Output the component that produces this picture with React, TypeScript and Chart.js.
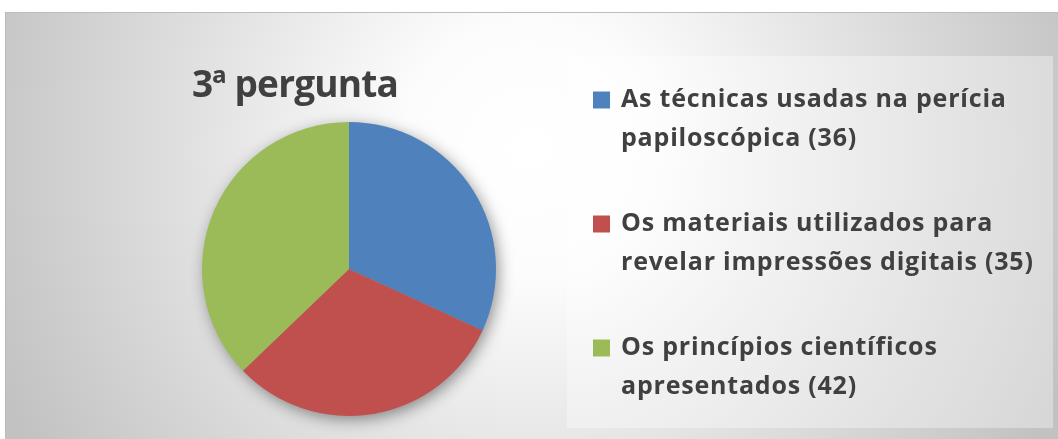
import React, { useEffect, useRef } from "react";
import { Chart, registerables } from "chart.js";

Chart.register(...registerables);

const chartTitle = "3ª pergunta";
const categories = [
  "As técnicas usadas na perícia papiloscópica",
  "Os materiais utilizados para revelar impressões digitais",
  "Os princípios científicos apresentados",
];
const values = [36, 35, 42];
const colors = ["#4f81bd", "#c0504d", "#9bbb59"];

const FONT = "'Open Sans', 'Noto Sans', 'DejaVu Sans', sans-serif";
const TEXT_COLOR = "#404040";

function wrapText(ctx: CanvasRenderingContext2D, text: string, maxWidth: number): string[] {
  const words = text.split(" ");
  const lines: string[] = [];
  let cur = "";
  for (const w of words) {
    const test = cur ? cur + " " + w : w;
    if (ctx.measureText(test).width > maxWidth && cur) {
      lines.push(cur);
      cur = w;
    } else {
      cur = test;
    }
  }
  if (cur) lines.push(cur);
  return lines;
}

const backgroundPlugin = {
  id: "bgPlugin",
  beforeDraw(chart: any) {
    const { ctx, width, height } = chart;
    ctx.save();
    ctx.fillStyle = "#ffffff";
    ctx.fillRect(0, 0, width, height);
    const g = ctx.createRadialGradient(530, 150, 0, 530, 150, 580);
    g.addColorStop(0, "#ffffff");
    g.addColorStop(0.22, "#fcfcfc");
    g.addColorStop(1, "#c2c2c2");
    ctx.fillStyle = g;
    ctx.fillRect(5, 12, width - 5, height - 12);
    ctx.strokeStyle = "#bcbcbc";
    ctx.lineWidth = 1;
    ctx.strokeRect(5.5, 12.5, width, height);
    ctx.restore();
  },
  beforeDatasetsDraw(chart: any) {
    const meta = chart.getDatasetMeta(0);
    if (!meta || !meta.data.length) return;
    const arc = meta.data[0];
    const { x, y, outerRadius } = arc.getProps(["x", "y", "outerRadius"], true);
    const { ctx } = chart;
    ctx.save();
    ctx.shadowColor = "rgba(0,0,0,0.45)";
    ctx.shadowBlur = 16;
    ctx.shadowOffsetX = 3;
    ctx.shadowOffsetY = 4;
    ctx.beginPath();
    ctx.arc(x, y, outerRadius - 1, 0, Math.PI * 2);
    ctx.fillStyle = "#999999";
    ctx.fill();
    ctx.restore();
  },
  afterDraw(chart: any) {
    const { ctx } = chart;
    ctx.save();
    // title
    ctx.fillStyle = TEXT_COLOR;
    ctx.font = `bold 37px ${FONT}`;
    (ctx as any).letterSpacing = "-0.8px";
    ctx.textAlign = "center";
    ctx.textBaseline = "alphabetic";
    ctx.fillText(chartTitle, 295, 97);

    // legend box
    ctx.fillStyle = "rgba(255,255,255,0.35)";
    ctx.fillRect(567, 56, 486, 372);

    const labels: string[] = chart.data.labels;
    const ds = chart.data.datasets[0];
    ctx.font = `bold 25px ${FONT}`;
    (ctx as any).letterSpacing = "0.8px";
    ctx.textAlign = "left";
    labels.forEach((lab, i) => {
      const cy = 100 + i * 124;
      ctx.fillStyle = ds.backgroundColor[i];
      ctx.fillRect(593, cy - 8.5, 17, 17);
      ctx.fillStyle = TEXT_COLOR;
      const lines = wrapText(ctx, `${lab} (${ds.data[i]})`, 425);
      lines.forEach((ln, j) => {
        ctx.fillText(ln, 621, cy + 7 + j * 39);
      });
    });
    ctx.restore();
  },
};

export default function App() {
  const ref = useRef<HTMLCanvasElement | null>(null);
  useEffect(() => {
    document.body.style.margin = "0";
    if (!ref.current) return;
    const chart = new Chart(ref.current, {
      type: "pie",
      data: {
        labels: categories,
        datasets: [
          {
            data: values,
            backgroundColor: colors,
            borderWidth: 0,
          },
        ],
      },
      options: {
        responsive: false,
        animation: false,
        layout: { padding: { top: 122, bottom: 23, left: 202, right: 562 } },
        plugins: {
          legend: { display: false },
          title: { display: false },
          tooltip: { enabled: false },
        },
      },
      plugins: [backgroundPlugin],
    });
    return () => chart.destroy();
  }, []);
  return (
    <div style={{ position: "fixed", left: 0, top: 0, width: 1058, height: 439 }}>
      <canvas ref={ref} width={1058} height={439} style={{ width: 1058, height: 439 }} />
    </div>
  );
}
